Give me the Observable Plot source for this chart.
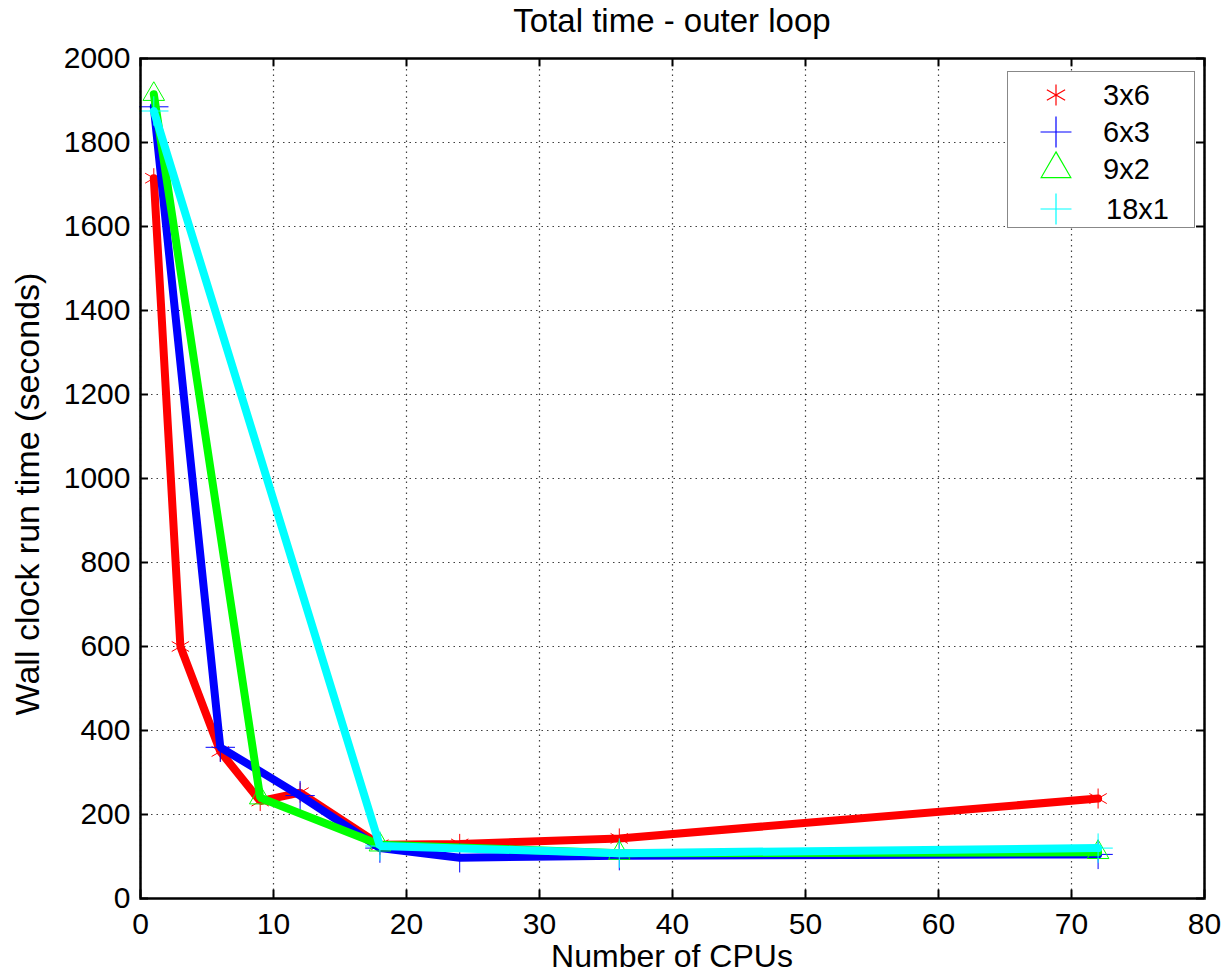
<!DOCTYPE html>
<html><head><meta charset="utf-8">
<script src="https://cdn.jsdelivr.net/npm/d3@7"></script>
<script src="https://cdn.jsdelivr.net/npm/@observablehq/plot@0.6"></script>
<style>
body{margin:0;background:#fff;font-family:"Liberation Sans",Arial,sans-serif;}
#wrap{position:relative;width:1228px;height:977px;overflow:hidden;}
.lbl{position:absolute;color:#000;white-space:nowrap;line-height:1;}
#title{left:0;width:1344px;top:4px;text-align:center;font-size:33px;}
#xlabel{left:0;width:1344px;top:940px;text-align:center;font-size:32px;}
#ylabel{left:27px;top:494px;font-size:34px;transform:translate(-50%,-50%) rotate(-90deg);}
#legend{position:absolute;left:1007px;top:71px;width:186px;height:155px;border:1.5px solid #888;background:#fff;}
.li{position:absolute;left:0;height:38px;width:186px;}
.li svg{position:absolute;left:28px;top:0;}
.li span{position:absolute;left:95px;top:2px;font-size:29px;line-height:34px;}
</style></head><body><div id="wrap">
<div id="title" class="lbl">Total time - outer loop</div>
<div id="xlabel" class="lbl">Number of CPUs</div>
<div id="ylabel" class="lbl">Wall clock run time (seconds)</div>
</div>
<script>
const seriesNames = ["3x6", "6x3", "9x2", "18x1"];
const seriesColors = ["#ff0000", "#0000ff", "#00ff00", "#00ffff"];
const seriesSymbols = ["asterisk", "plus", "triangle", "plus"];

const cpus3x6 = [1, 3, 6, 9, 12, 18, 24, 36, 72];
const time3x6 = [1715, 600, 350, 232, 252, 128, 130, 143, 238];
const cpus6x3 = [1, 6, 12, 18, 24, 36, 72];
const time6x3 = [1885, 360, 245, 120, 97, 102, 105];
const cpus9x2 = [1, 9, 18, 36, 72];
const time9x2 = [1915, 240, 128, 108, 110];
const cpus18x1 = [1, 18, 36, 72];
const time18x1 = [1875, 125, 108, 120];

const xTicks = [0, 10, 20, 30, 40, 50, 60, 70, 80];
const yTicks = [0, 200, 400, 600, 800, 1000, 1200, 1400, 1600, 1800, 2000];

const cpusList = [cpus3x6, cpus6x3, cpus9x2, cpus18x1];
const timeList = [time3x6, time6x3, time9x2, time18x1];

const seriesData = seriesNames.map((name, i) =>
  cpusList[i].map((c, j) => ({series: name, cpus: c, time: timeList[i][j]})));

const gridStyle = {stroke: "#000", strokeOpacity: 0.75, strokeWidth: 1.2, strokeDasharray: "1.5,4"};
const marks = [
  Plot.gridX(xTicks, gridStyle),
  Plot.gridY(yTicks, gridStyle)
];
seriesData.forEach((data, i) => {
  marks.push(Plot.line(data, {x: "cpus", y: "time", stroke: seriesColors[i], strokeWidth: 8, strokeLinejoin: "miter"}));
  marks.push(Plot.dot(data, {x: "cpus", y: "time", symbol: seriesSymbols[i], stroke: seriesColors[i], fill: "none", r: seriesSymbols[i] === "triangle" ? 8 : 9.5, strokeWidth: 1}));
});
marks.push(
  Plot.ruleX(xTicks, {x: d => d, y1: 0, y2: 20, stroke: "#000", strokeWidth: 2}),
  Plot.ruleX(xTicks, {x: d => d, y1: 1980, y2: 2000, stroke: "#000", strokeWidth: 2}),
  Plot.ruleY(yTicks, {y: d => d, x1: 0, x2: 0.6, stroke: "#000", strokeWidth: 2}),
  Plot.ruleY(yTicks, {y: d => d, x1: 79.4, x2: 80, stroke: "#000", strokeWidth: 2}),
  Plot.frame({stroke: "#000", strokeWidth: 2.5}),
  Plot.axisX(xTicks, {tickSize: 0, tickPadding: 14, fontSize: 30, label: null, tickFormat: d => String(d)}),
  Plot.axisY(yTicks, {tickSize: 0, tickPadding: 10, fontSize: 30, label: null, tickFormat: d => String(d)})
);

const chart = Plot.plot({
  width: 1228, height: 977,
  marginLeft: 140, marginRight: 24, marginTop: 58, marginBottom: 79,
  x: {domain: [0, 80]},
  y: {domain: [0, 2000]},
  style: {fontFamily: "'Liberation Sans', Arial, sans-serif", color: "#000", background: "#fff", overflow: "visible"},
  marks
});
const wrap = document.getElementById("wrap");
wrap.insertBefore(chart, wrap.firstChild);

// legend
const legend = document.createElement("div");
legend.id = "legend";
const symMap = {asterisk: d3.symbolAsterisk, plus: d3.symbolPlus, triangle: d3.symbolTriangle};
const rowTops = [4, 41, 78, 118];
seriesNames.forEach((name, i) => {
  const row = document.createElement("div");
  row.className = "li";
  row.style.top = rowTops[i] + "px";
  const r = seriesSymbols[i] === "triangle" ? 11 : 10;
  const path = d3.symbol(symMap[seriesSymbols[i]], Math.PI * r * r)();
  row.innerHTML = `<svg width="40" height="38"><path transform="translate(20,19)" d="${path}" fill="none" stroke="${seriesColors[i]}" stroke-width="1.2"/></svg><span style="left:${name.length > 3 ? 98 : 95}px">${name}</span>`;
  legend.appendChild(row);
});
wrap.appendChild(legend);
</script>
</body></html>
